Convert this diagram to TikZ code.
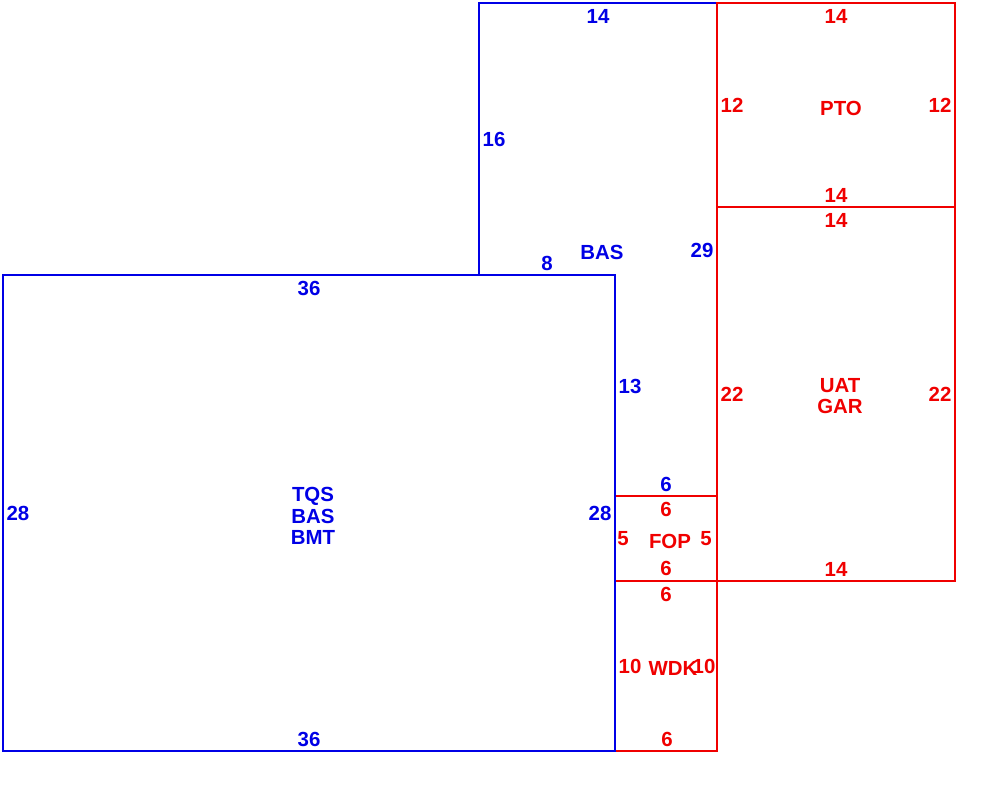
\documentclass[tikz,border=0pt]{standalone}
\usepackage{fontspec}
\setmainfont{Liberation Sans}
\definecolor{pb}{RGB}{0,0,230}
\definecolor{pr}{RGB}{240,0,0}
\begin{document}
\begin{tikzpicture}[x=1bp,y=-1bp, line width=1.3bp,
  lb/.style={text=pb,font=\bfseries\fontsize{20.5}{21.5}\selectfont, inner sep=0pt, align=center},
  lr/.style={lb, text=pr}]
\useasboundingbox (0,0) rectangle (990,799);
\fill[white] (0,0) rectangle (990,799);
% BAS outline
\draw[pb] (479,275) -- (479,3) -- (717,3) -- (717,496) -- (615,496) -- (615,275) -- cycle;
% red rooms
\draw[pr] (717,3) rectangle (955,207);
\draw[pr] (717,207) rectangle (955,581);
\draw[pr] (615,496) rectangle (717,581);
\draw[pr] (615,581) rectangle (717,751);
% TQS
\draw[pb] (3,275) rectangle (615,751);
% BAS labels
\node[lb] (bas14) at (598,16) {14};
\node[lb] (bas16) at (494,139) {16};
\node[lb] (bas8) at (547,263) {8};
\node[lb] (basname) at (602,252) {BAS};
\node[lb] (bas29) at (702,250) {29};
\node[lb] (bas13) at (630,386) {13};
\node[lb] (bas6) at (666,484) {6};
% TQS labels
\node[lb] (tqs36t) at (309,288) {36};
\node[lb] (tqs36b) at (309,739) {36};
\node[lb] (tqs28l) at (18,513) {28};
\node[lb] (tqs28r) at (600,513) {28};
\node[lb] (tqsname) at (313,516) {TQS\\BAS\\BMT};
% PTO labels
\node[lr] (pto14t) at (836,16) {14};
\node[lr] (pto12l) at (732,105) {12};
\node[lr] (ptoname) at (841,108) {PTO};
\node[lr] (pto12r) at (940,105) {12};
\node[lr] (pto14b) at (836,195) {14};
% UAT labels
\node[lr] (uat14t) at (836,220) {14};
\node[lr] (uat22l) at (732,394) {22};
\node[lr] (uatname) at (840,396) {UAT\\GAR};
\node[lr] (uat22r) at (940,394) {22};
\node[lr] (uat14b) at (836,569) {14};
% FOP labels
\node[lr] (fop6t) at (666,509) {6};
\node[lr] (fop5l) at (623,539) {5};
\node[lr] (fopname) at (670,541) {FOP};
\node[lr] (fop5r) at (706,539) {5};
\node[lr] (fop6b) at (666,568) {6};
% WDK labels
\node[lr] (wdk6t) at (666,594) {6};
\node[lr] (wdk10l) at (630,666) {10};
\node[lr] (wdkname) at (673,668) {WDK};
\node[lr] (wdk10r) at (704,666) {10};
\node[lr] (wdk6b) at (667,739) {6};
\end{tikzpicture}
\end{document}
